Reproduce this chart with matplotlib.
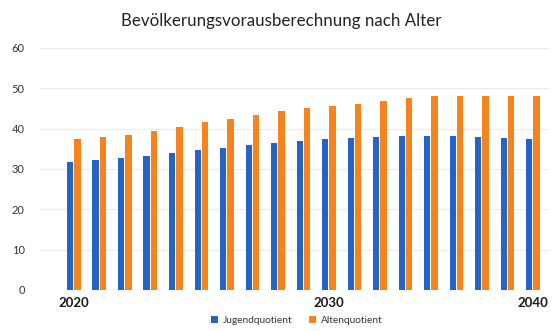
import matplotlib.pyplot as plt
import numpy as np

plt.rcParams['font.family'] = ['Lato', 'DejaVu Sans']

# values (19 groups)
jugend = [31.7, 32.2, 32.7, 33.3, 34.0, 34.6, 35.3, 35.9, 36.4, 37.0,
          37.5, 37.8, 38.0, 38.1, 38.1, 38.1, 37.9, 37.6, 37.4]
alten = [37.4, 38.0, 38.5, 39.4, 40.4, 41.7, 42.5, 43.5, 44.3, 45.1,
         45.6, 46.1, 46.9, 47.6, 48.0, 48.0, 48.2, 48.2, 48.0]
year_tick_pos = [0, 10, 18]
year_tick_labels = ['2020', '2030', '2040']

blue = '#2563c9'
orange = '#f5841f'

fig = plt.figure(figsize=(5.55, 3.31), dpi=100)
ax = fig.add_axes([0.072, 0.124, 0.919, 0.731])

x = np.arange(len(jugend))
w = 0.25
ax.bar(x - w / 2 - 0.02, jugend, width=w, color=blue, label='Jugendquotient', zorder=3)
ax.bar(x + w / 2 + 0.02, alten, width=w, color=orange, label='Altenquotient', zorder=3)

ax.set_ylim(0, 60)
ax.set_xlim(-1.33, 18.67)
ax.set_yticks(range(0, 61, 10))
ax.tick_params(axis='y', length=0, labelsize=8, labelcolor='#333333', pad=11)
ax.set_xticks(year_tick_pos)
ax.set_xticklabels(year_tick_labels, fontsize=9.5, fontweight='bold', color='#1a1a1a')
ax.tick_params(axis='x', length=0, pad=5)
ax.grid(axis='y', color='#ececec', linewidth=0.8, zorder=0)
for s in ax.spines.values():
    s.set_visible(False)

fig.suptitle('Bevölkerungsvorausberechnung nach Alter', x=0.507, y=0.96,
             fontsize=12.2, color='#222222')
fig.legend(loc='lower center', bbox_to_anchor=(0.535, -0.01), ncol=2, frameon=False,
           fontsize=7.3, handlelength=0.7, handleheight=0.7, columnspacing=1.6,
           handletextpad=0.5, labelcolor='#333333')

fig.savefig('out.png', dpi=100)
